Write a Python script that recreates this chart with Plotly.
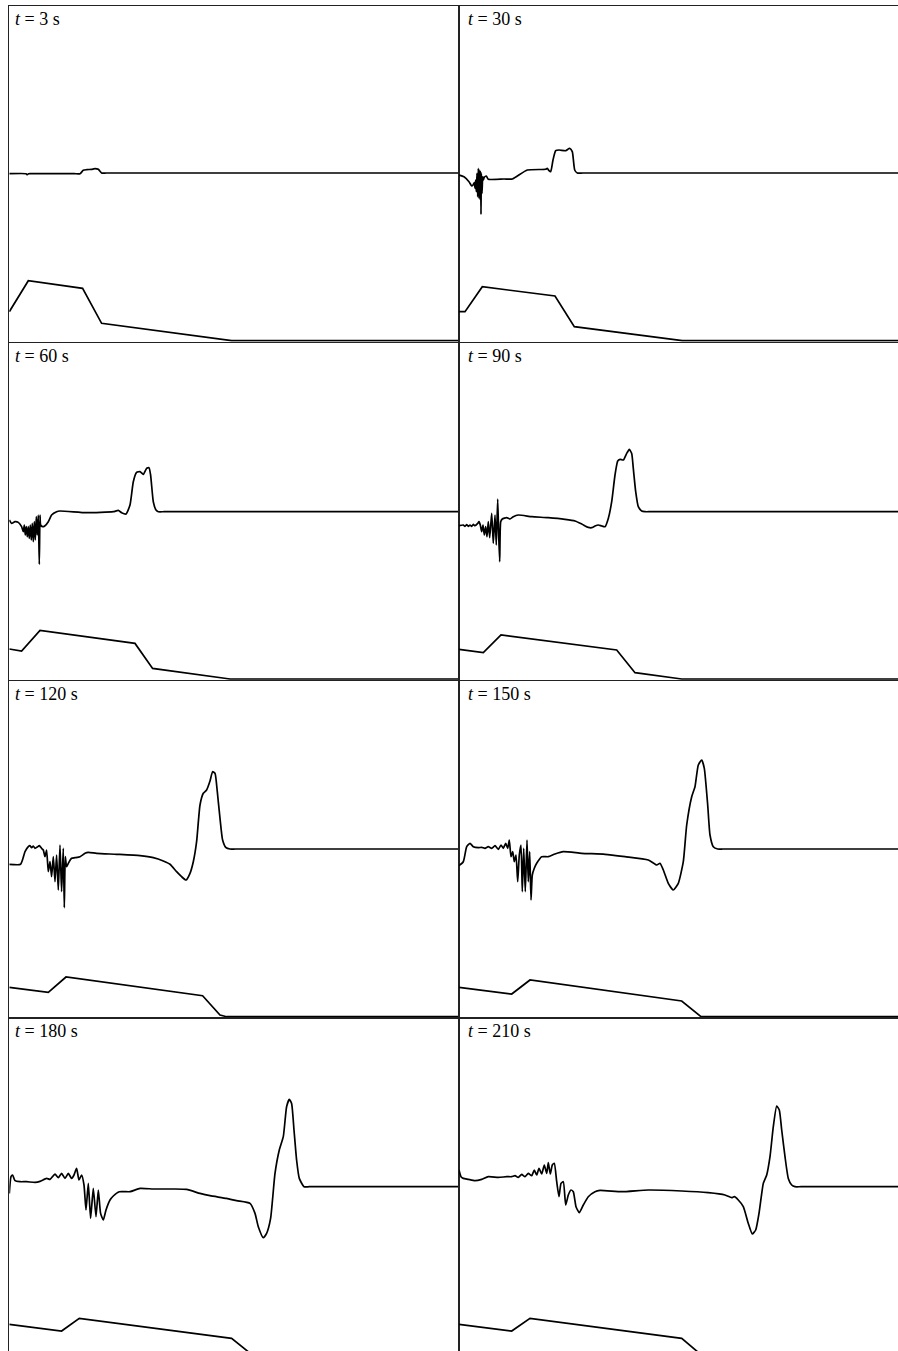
import plotly.graph_objects as go

# ---------------- data (distance units, elevation relative to still-water level) ----------------
times = [3, 30, 60, 90, 120, 150, 180, 210]

surf_x_03 = [0, 16.7, 18, 19.3, 24, 65, 70.7, 74, 77.3, 82.3, 85.7, 89, 92.3, 97, 450]
surf_y_03 = [-0.7, -0.7, -1.7, -0.7, -0.7, -0.7, -0.7, 2.7, 3.3, 3.7, 4.3, 3.7, 0, 0, 0]
bed_x_03 = [0, 19, 73.3, 92.3, 222.3, 450]
bed_y_03 = [-138.7, -107.7, -115.3, -150.3, -167.7, -167.7]

surf_x_30 = [0, 5, 10, 12.7, 14, 15.3, 16, 16.7, 17.3, 18, 18.7, 19.3, 20, 20.7, 21.3, 21.7, 22, 22.3,
             23, 23.7, 24.3, 25.3, 27.3, 29.3, 45, 53.3, 68.3, 86.7, 88.3, 90, 91.7, 94, 96.7, 100, 106.7,
             110.7, 113.3, 115.7, 118.3, 124, 450]
surf_y_30 = [-2, -3.7, -8.7, -13, -12, -9.7, -15.3, -7, -18.7, -0.3, -23.7, 4.7, -25.3, 3, -27, 1.3, -41.3, -0.3,
             -20.3, -3.7, -7, -4.3, -3, -6.3, -6, -6, 3, 3.7, 4.7, 2.3, 1.3, 13, 22.3, 23, 22.3,
             24.7, 21.3, 3, 0, 0, 0]
bed_x_30 = [0, 6, 23.3, 96, 115.3, 223.3, 450]
bed_y_30 = [-138.7, -138.7, -113.7, -123, -153.7, -167.7, -167.7]

surf_x_60 = [0, 2.3, 5.7, 9, 12.3, 14, 15, 16, 17, 18, 19, 20, 21, 22, 23, 24, 25, 26, 27, 28, 29, 30, 30.7,
             31.3, 33.3, 35.7, 39, 42.3, 47.3, 50.7, 77.3, 104, 109, 112.3, 116.7, 120.7, 124, 127.3, 130.7,
             134, 137.3, 139.7, 141.3, 144, 146.7, 149, 155, 450]
surf_y_60 = [-8.3, -11.7, -10, -10.7, -15, -20, -13.3, -23.3, -15, -25, -15, -26.7, -13.3, -28.3, -11.7, -30,
             -10, -28.3, -5, -23.3, -3.3, -52.7, -3.3, -13.3, -15, -14, -10, -3.3, 0, 0.7, -1, 0, 1.3, -1,
             -2.3, 6.7, 30, 39.3, 40, 37.3, 43.3, 44, 36.7, 10, 1.7, 0, 0, 0]
bed_x_60 = [0, 12.3, 30.7, 125.7, 143.3, 220.7, 450]
bed_y_60 = [-137.3, -139.3, -118.7, -131.7, -156.7, -167.3, -167.3]

surf_x_90 = [0, 4.3, 6, 7.7, 9.3, 11, 12.7, 14.3, 16, 18.7, 20, 21.3, 22.7, 24, 25.3, 26.7, 28, 29.3, 30.7,
             32.7, 34.3, 36, 37.3, 38.7, 39.7, 40.7, 41.7, 43.3, 47.7, 51, 54.3, 59.3, 72.7, 89.3, 106, 116,
             122.7, 129.3, 132.7, 136, 139.3, 142.7, 146, 149.3, 152.7, 156, 158.7, 161, 164.3, 167.7, 170.3,
             172.7, 174.3, 176.7, 179.3, 182.7, 186, 192, 450]
surf_y_90 = [-14, -13.3, -14.7, -13, -14.7, -13.3, -14.7, -12.7, -14, -11.7, -10, -13.3, -20, -13.3, -23.3,
             -15, -25, -10, -26, -1.7, -31.7, -3.3, -33.3, 12.7, -23.3, -50, -10, -7.3, -6, -7.3, -5, -3.3,
             -5, -6, -7.7, -9.3, -12.3, -15.7, -16, -14.3, -13.3, -14.3, -15, -6.7, 10, 36.7, 50.7, 52.3,
             51.7, 58.3, 62.3, 58.3, 43.3, 20, 5, 0.7, 0, 0, 0]
bed_x_90 = [0, 24.3, 42, 157.7, 176, 222.7, 450]
bed_y_90 = [-137.7, -141, -123.3, -138.3, -161, -167.3, -167.3]

surf_x_120 = [0, 11.3, 15.7, 19, 20.7, 22.3, 24, 25.7, 28, 30, 32.3, 34, 35.7, 37.3, 39, 40.7, 42.3, 44,
              45.7, 47.3, 49, 50.7, 52.3, 54, 55, 56, 57.3, 59, 62.3, 65.7, 70.7, 75.7, 79, 87.3, 107.3,
              130.7, 144, 154, 160.7, 167.3, 172.3, 176.7, 180.7, 184, 187.3, 190.7, 194, 197.3, 200.7,
              203.3, 205.7, 208, 210.7, 213.3, 216.7, 220.7, 226, 450]
surf_y_120 = [-15.3, -15.3, -2.7, 2.3, 3.3, 1.3, 3, 0.7, 2, 3.3, 0.7, -1, -7.7, -1, -22.7, -12.7, -27.7,
              -7.7, -32.7, -6, -41, 4, -42.7, 0.7, -58.7, -7.7, -17.7, -14.3, -9.3, -8.7, -7.7, -4.3, -3.3,
              -4.3, -5.3, -6.7, -8.7, -12, -15.3, -22.7, -27.7, -31, -24.3, -12.7, 7.3, 44, 55.7, 59, 68,
              77.3, 75.7, 57.3, 30.7, 9, 1.3, 0, 0, 0]
bed_x_120 = [0, 39, 56.7, 193.3, 210.7, 217.3, 450]
bed_y_120 = [-138.3, -143.3, -128, -146.7, -166, -167.7, -167.7]

surf_x_150 = [0, 4.3, 7.7, 11, 14.3, 19.3, 22.7, 26, 29.3, 32.7, 36, 39.3, 42, 44.3, 46.7, 48.7, 50.3, 52,
              53.7, 55.3, 57, 58.7, 60.3, 62, 63.3, 64.7, 66.3, 68, 69.3, 70.7, 72, 73.3, 75.3, 77.7, 82.7,
              89.3, 96, 104.3, 122.7, 146, 166, 189.3, 197.7, 201, 204.3, 209.3, 214.3, 219.3, 224.3, 227.7,
              232.7, 236, 239.3, 242.7, 245.3, 248.7, 251, 254.3, 258.7, 264, 450]
surf_y_150 = [-16.7, -12.7, 2.3, 5.7, 2.3, 1.3, 1.7, 0.7, 2.3, 0.7, 3.3, -0.3, 4, 0.7, 5.7, 0.7, 9, -7.7,
              -2.7, -12.7, -6, -32.7, -6, 4, -42.7, 0.7, -42.7, 9, -32.7, -2.7, -51, -26, -19.3, -14.3,
              -7.7, -7.7, -5, -2.7, -4.3, -5.3, -7.7, -11, -16, -14.3, -21, -34.3, -41, -34.3, -12.7, 24,
              52.3, 62.3, 84, 89, 80.7, 44, 14, 2.3, 0, 0, 0]
bed_x_150 = [0, 52.7, 71, 222.7, 242, 450]
bed_y_150 = [-138.3, -145, -131, -152, -167.7, -167.7]

surf_x_180 = [0, 1.7, 3.3, 5.7, 10.7, 17.3, 25.7, 30.7, 37.3, 40.7, 45.7, 49, 52.3, 55.7, 59, 62.3, 64.7,
              67.3, 69.7, 72.3, 74.7, 76.7, 79, 81.3, 84, 86.7, 89, 91.3, 94, 96.7, 100.7, 104, 110, 120.7,
              130.7, 144, 164, 177.3, 190.7, 200.7, 217.3, 227.3, 240.7, 245.7, 249, 254, 257.3, 261.3,
              265.7, 270, 274, 277.3, 280, 282.3, 284.7, 287.3, 290, 294.7, 300, 450]
surf_y_180 = [-6.7, 10, 11.7, 6, 5, 5, 4.3, 5.3, 8.3, 7.3, 12.7, 9, 13.3, 8.3, 13.3, 8.3, 11.7, 18.3, 6.7,
              11.7, 1.7, -23.3, 3.3, -31.7, -1.7, -30, -3.3, -26.7, -33.3, -23.3, -13.3, -9.3, -5, -5,
              -1.7, -2.3, -2.3, -2.7, -6.7, -9, -11.7, -14, -16.7, -26.7, -40, -51, -46.7, -31.7, 13.3,
              36.7, 50, 80, 87.3, 83.3, 56.7, 26.7, 8.3, 0, 0, 0]
bed_x_180 = [0, 52.3, 70, 222.3, 242.3, 450]
bed_y_180 = [-137.7, -144.3, -131.7, -151.7, -167.7, -167.7]

surf_x_210 = [0, 2, 4.3, 9.3, 16, 22.7, 29.3, 39.3, 47.7, 52.7, 56, 59.3, 62.7, 66, 69.3, 72.7, 75.3, 77.7,
              80, 82.7, 85.3, 87.7, 89.3, 91.3, 93.3, 95.3, 97.7, 100, 102, 104.3, 106.7, 109.3, 112, 114.3,
              117, 120.3, 124.3, 129.3, 136, 141, 162.7, 189.3, 222.7, 249.3, 266, 272.7, 275.3, 279.3,
              284.3, 289.3, 293.3, 296.7, 300, 304.3, 307.7, 311, 314.3, 317.7, 320.3, 322.7, 326, 329.3,
              332.7, 336, 342, 450]
surf_y_210 = [16.7, 10, 8.3, 7.3, 6, 7.3, 10, 9.3, 10, 10, 11, 9.3, 12.3, 10, 13.3, 11, 16.7, 11.7, 18.3,
              12.7, 21.7, 13.3, 24, 12.7, 21.7, 23.3, 5, -10, 3.3, 5, -18.3, -8.3, -3.3, -5, -20, -26, -18.3,
              -10, -5, -3.7, -5, -3.3, -4.3, -6, -8.3, -11, -10, -13.3, -20, -36.7, -47.3, -43.3, -26.7,
              3.3, 11.7, 30, 60, 80.7, 76.7, 56.7, 30, 8.3, 1.7, 0, 0, 0]
bed_x_210 = [0, 52.7, 71, 222.7, 241.7, 450]
bed_y_210 = [-137.7, -144.3, -131.7, -151.7, -167.7, -167.7]

surf_x = [surf_x_03, surf_x_30, surf_x_60, surf_x_90, surf_x_120, surf_x_150, surf_x_180, surf_x_210]
surf_y = [surf_y_03, surf_y_30, surf_y_60, surf_y_90, surf_y_120, surf_y_150, surf_y_180, surf_y_210]
bed_x = [bed_x_03, bed_x_30, bed_x_60, bed_x_90, bed_x_120, bed_x_150, bed_x_180, bed_x_210]
bed_y = [bed_y_03, bed_y_30, bed_y_60, bed_y_90, bed_y_120, bed_y_150, bed_y_180, bed_y_210]

# ---------------- layout geometry ----------------
W, H = 898, 1351
col_px = [(9.3, 459.0), (459.0, 898.0)]
row_px = [(5.7, 341.7), (343.0, 680.0), (680.7, 1017.7), (1018.3, 1351.0)]
base_px = [173.0, 511.7, 849.0, 1186.7]   # still-water line of each row
label_px_x = [12.5, 466.0]

fig = go.Figure()
layout = dict(width=W, height=H, margin=dict(l=0, r=0, t=0, b=0),
              paper_bgcolor="white", plot_bgcolor="white", showlegend=False)
annotations = []

for i, t in enumerate(times):
    r, c = divmod(i, 2)
    k = i + 1
    xn = "x" if k == 1 else f"x{k}"
    yn = "y" if k == 1 else f"y{k}"
    x0p, x1p = col_px[c]
    y0p, y1p = row_px[r]
    xdom = [x0p / W, x1p / W]
    ydom = [1 - y1p / H, 1 - y0p / H]
    xr = [0, x1p - x0p]
    yr = [base_px[r] - y1p, base_px[r] - y0p]
    last_row = (r == 3)
    xa = dict(domain=xdom, range=xr, showgrid=False, zeroline=False, showticklabels=False,
              ticks="", showline=True, linecolor="#222", linewidth=1.1,
              mirror=(not last_row), side=("top" if last_row else "bottom"),
              anchor=yn, fixedrange=True)
    ya = dict(domain=ydom, range=yr, showgrid=False, zeroline=False, showticklabels=False,
              ticks="", showline=True, linecolor="#222", linewidth=1.1,
              mirror=(c == 0), side="left", anchor=xn, fixedrange=True)
    layout["xaxis" if k == 1 else f"xaxis{k}"] = xa
    layout["yaxis" if k == 1 else f"yaxis{k}"] = ya

    fig.add_trace(go.Scatter(x=bed_x[i], y=bed_y[i], mode="lines", xaxis=xn, yaxis=yn,
                             line=dict(color="black", width=1.7), hoverinfo="skip"))
    fig.add_trace(go.Scatter(x=surf_x[i], y=surf_y[i], mode="lines", xaxis=xn, yaxis=yn,
                             line=dict(color="black", width=1.7, shape="spline", smoothing=0.5),
                             hoverinfo="skip"))

    annotations.append(dict(text=f"<i>t</i> = {t} s", xref="paper", yref="paper",
                            x=label_px_x[c] / W, y=1 - (y0p + 1.0) / H,
                            xanchor="left", yanchor="top", showarrow=False,
                            font=dict(family="Liberation Serif, Times New Roman, serif", size=18,
                                      color="black")))

layout["annotations"] = annotations
fig.update_layout(**layout)
fig.write_html("out.html", config={"displayModeBar": False},
               post_script="document.body.style.margin='0';document.body.style.overflow='hidden';")
